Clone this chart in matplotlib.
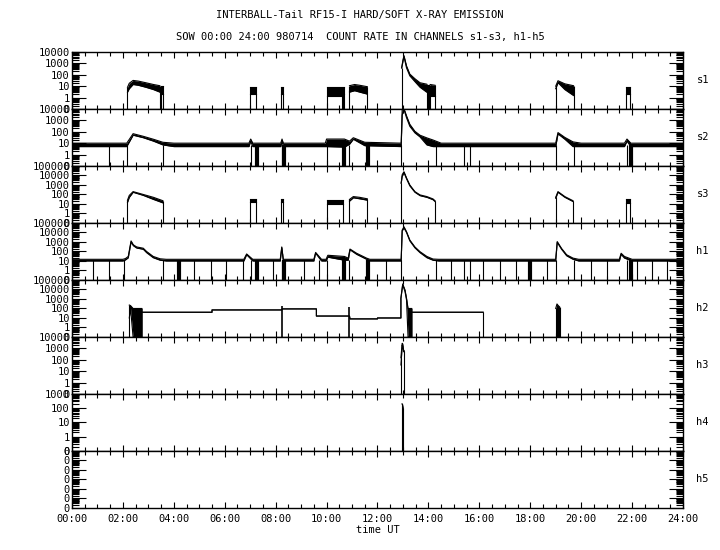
import numpy as np
import matplotlib
matplotlib.use('Agg')
import matplotlib.pyplot as plt
from matplotlib.ticker import FixedLocator, MultipleLocator

plt.rcParams['font.family'] = ['DejaVu Sans Mono']
plt.rcParams['font.size'] = 7.5

# panel names and top decade of each y axis (bottom is always the "0" row)
names = ['s1', 's2', 's3', 'h1', 'h2', 'h3', 'h4', 'h5']
tops = [4, 4, 5, 5, 5, 4, 3, 5]

# ---- s1: isolated bursts (hours, lower / upper edge of the noisy band, counts)
s1_segs = [
    ([2.18, 2.25, 2.4, 2.6, 2.9, 3.2, 3.45], [3, 6, 14, 12, 8, 5, 3], [8, 18, 32, 28, 20, 14, 11]),
    ([3.5, 3.57], [2, 2], [10, 10]),
    ([7.0, 7.23], [2, 2], [9, 9]),
    ([8.2, 8.3], [2, 2], [9, 9]),
    ([10.0, 10.62], [1.5, 1.5], [9, 9]),
    ([10.66, 10.7], [2, 2], [8, 8]),
    ([10.9, 11.1, 11.3, 11.6], [3, 4, 3, 2], [11, 14, 12, 9]),
    ([12.95, 13.0, 13.04, 13.14, 13.27, 13.47, 13.67, 13.93],
     [400, 1500, 4000, 400, 80, 25, 8, 3], [400, 2000, 4800, 600, 115, 45, 20, 15]),
    ([13.97, 14.03], [2, 2], [14, 14]),
    ([14.07, 14.26], [1.5, 1.5], [14, 12]),
    ([19.0, 19.09, 19.36, 19.7], [6, 20, 5, 1.5], [10, 30, 16, 11]),
    ([21.76, 21.9], [2, 2], [9, 9]),
]

# ---- s2: continuous background with humps, and drop-outs to zero
s2_t = [0, 2.15, 2.4, 2.8, 3.2, 3.57, 4.0, 6.95, 7.02, 7.1, 8.2, 8.25, 8.3, 9.95,
        10.0, 10.7, 10.9, 11.05, 11.5, 12.93, 12.97, 13.04, 13.14, 13.27, 13.47,
        13.67, 13.94, 14.18, 14.5, 19.0, 19.09, 19.36, 19.68, 20.0, 21.7, 21.8,
        21.95, 24]
s2_lo = [5, 5, 50, 30, 15, 7, 5, 5, 15, 5, 5, 15, 5, 5,
         5, 4.5, 8, 22, 6, 5, 3000, 9000, 1700, 300, 80,
         35, 7, 5, 5, 5, 65, 22, 5, 5, 5, 15,
         5, 5]
s2_hi = [10, 10, 68, 40, 22, 12, 10, 10, 23, 10, 10, 23, 10, 10,
         23, 23, 15, 30, 12, 10, 9000, 11000, 2500, 450, 110,
         50, 29, 19, 10, 10, 85, 32, 13, 10, 10, 23,
         10, 10]
s2_dips = [1.46, 2.16, 3.58, 7.03, 8.25, 10.0, 10.9, 12.93, 14.3, 15.4, 15.63,
           19.0, 19.72, 21.8]
s2_wide_dips = [7.27, 8.33, 10.7, 11.64, 21.97]

# ---- s3: isolated bursts
s3_segs = [
    ([2.18, 2.25, 2.4, 2.8, 3.2, 3.57], [15, 50, 170, 80, 30, 13], [25, 80, 200, 100, 50, 22]),
    ([7.0, 7.23], [15, 15], [30, 30]),
    ([8.2, 8.3], [15, 15], [30, 30]),
    ([10.0, 10.65], [10, 10], [25, 25]),
    ([10.9, 11.05, 11.3, 11.6], [20, 45, 35, 25], [30, 60, 50, 35]),
    ([12.93, 12.97, 13.04, 13.14, 13.27, 13.47, 13.67, 13.94, 14.18, 14.26],
     [1500, 8000, 20000, 4500, 800, 170, 75, 50, 28, 18],
     [1600, 12000, 25000, 5500, 1000, 200, 90, 60, 34, 22]),
    ([19.0, 19.09, 19.36, 19.68], [40, 170, 50, 18], [50, 200, 60, 22]),
    ([21.76, 21.9], [13, 13], [30, 30]),
]

# ---- h1: continuous background with flares, many drop-outs
h1_t = [0, 2.0, 2.1, 2.21, 2.32, 2.41, 2.54, 2.8, 2.93, 3.19, 3.46, 3.7, 6.75, 6.86,
        7.1, 8.18, 8.24, 8.3, 9.5, 9.57, 9.8, 9.98, 10.05, 10.7, 10.85, 10.92,
        11.18, 11.57, 11.7, 12.93, 12.97, 13.04, 13.14, 13.27, 13.47, 13.67, 13.94,
        14.18, 14.4, 19.0, 19.06, 19.23, 19.43, 19.68, 19.9, 21.5, 21.57, 21.7,
        22.0, 24]
h1_lo = [10, 10, 13, 22, 1000, 400, 230, 170, 75, 22, 12, 10, 10, 45,
         10, 10, 250, 10, 10, 65, 10, 10, 25, 12, 12, 150,
         50, 15, 10, 10, 15000, 30000, 10000, 1300, 240, 75, 22,
         12, 10, 10, 900, 170, 35, 15, 10, 10, 50, 20,
         10, 10]
h1_hi = [15, 15, 18, 30, 1300, 500, 300, 220, 100, 30, 17, 15, 15, 55,
         15, 15, 300, 15, 15, 80, 15, 15, 40, 30, 20, 180,
         65, 20, 15, 15, 18000, 40000, 12000, 1600, 300, 95, 30,
         16, 15, 15, 1100, 210, 45, 20, 15, 15, 65, 30,
         15, 15]
h1_dips = [0.82, 1.45, 2.04, 3.57, 4.8, 5.46, 6.05, 6.7, 7.03, 7.9, 8.25, 9.1,
           9.7, 10.0, 10.9, 12.33, 12.93, 14.3, 14.9, 15.4, 15.63, 16.15, 16.8,
           17.43, 18.65, 19.0, 19.72, 20.4, 21.0, 21.8, 22.2, 22.8, 23.37]
h1_wide_dips = [4.2, 7.25, 8.33, 10.7, 11.63, 18.0, 21.97]

# ---- h2: step-like trace between 02:15 and 16:10, plus a burst at 19:00
h2_t = [2.25, 2.3, 2.4, 2.75, 2.75, 5.5, 5.5, 8.24, 8.26, 9.6, 9.6, 10.9, 10.92,
        12.0, 12.0, 12.92, 12.92, 12.99, 13.08, 13.14, 13.2, 13.35, 13.35, 16.15]
h2_lo = [10, 100, 0, 0, 40, 40, 70, 70, 90, 90, 16, 16, 8,
         8, 10, 10, 1200, 30000, 6000, 800, 0, 0, 40, 40]
h2_hi = [230, 200, 100, 100, 40, 40, 70, 70, 90, 90, 16, 16, 8,
         8, 10, 10, 1200, 38000, 9000, 1200, 100, 100, 40, 40]
h2_spikes = [8.24, 10.9]
h2_spike_top = [180, 150]
h2_burst_t = [19.0, 19.05, 19.1, 19.15]
h2_burst_hi = [100, 300, 200, 150]

# ---- h3 and h4: single spike at the 13:00 flare
h3_t = [12.92, 12.94, 12.97, 12.99, 13.03, 13.05]
h3_lo = [35, 150, 2000, 1500, 500, 500]
h3_hi = [150, 500, 2800, 2500, 600, 600]
h4_t = [12.96, 12.98, 13.01]
h4_hi = [200, 200, 100]

title1 = 'INTERBALL-Tail RF15-I HARD/SOFT X-RAY EMISSION'
title2 = 'SOW 00:00 24:00 980714  COUNT RATE IN CHANNELS s1-s3, h1-h5'
hours = np.arange(0, 25, 2)
hour_labels = ['%02d:00' % h for h in hours]

LW = 0.8


def lg(c):
    # log10 of the count, with 0 counts placed one decade below 1
    c = np.asarray(c, dtype=float)
    return np.where(c > 0, np.log10(np.where(c > 0, c, 1)), -1.0)


def band(ax, t, lo, hi, edges=True):
    t = np.asarray(t, dtype=float)
    l, h = lg(lo), lg(hi)
    ax.fill_between(t, l, h, color='k', lw=0)
    ax.plot(t, l, color='k', lw=LW)
    ax.plot(t, h, color='k', lw=LW)
    if edges:
        ax.vlines([t[0], t[-1]], -1, [h[0], h[-1]], color='k', lw=LW)


fig, axes = plt.subplots(8, 1, figsize=(7.2, 5.5), dpi=100, sharex=True)
fig.subplots_adjust(left=0.1, right=0.9486, top=0.9055, bottom=0.0764, hspace=0)

for seg in s1_segs:
    band(axes[0], *seg)

band(axes[1], s2_t, s2_lo, s2_hi, edges=False)
axes[1].vlines(s2_dips, -1, lg(7), color='k', lw=LW)
axes[1].vlines(s2_wide_dips, -1, lg(7), color='k', lw=3)

for seg in s3_segs:
    band(axes[2], *seg)

band(axes[3], h1_t, h1_lo, h1_hi, edges=False)
axes[3].vlines(h1_dips, -1, lg(12), color='k', lw=LW)
axes[3].vlines(h1_wide_dips, -1, lg(12), color='k', lw=3)

band(axes[4], h2_t, h2_lo, h2_hi)
axes[4].vlines(h2_spikes, -1, lg(h2_spike_top), color='k', lw=1.2)
band(axes[4], h2_burst_t, np.zeros(len(h2_burst_t)), h2_burst_hi)

band(axes[5], h3_t, h3_lo, h3_hi)
band(axes[6], h4_t, np.zeros(len(h4_t)), h4_hi)

for ax, name, top in zip(axes, names, tops):
    ax.set_xlim(0, 24)
    ax.set_ylim(-1, top)
    major = np.arange(-1, top + 1)
    ax.yaxis.set_major_locator(FixedLocator(major))
    if name == 'h5':
        ax.set_yticklabels(['0'] * len(major))
    else:
        ax.set_yticklabels(['0'] + ['%d' % 10 ** k for k in major[1:]])
    minor = [d + np.log10(m) for d in range(-1, top) for m in range(2, 10)]
    ax.yaxis.set_minor_locator(FixedLocator(minor))
    ax.xaxis.set_major_locator(FixedLocator(hours))
    ax.xaxis.set_minor_locator(MultipleLocator(0.5))
    ax.tick_params(which='both', direction='in', left=True, right=True,
                   top=True, bottom=True, width=0.8, pad=1.5)
    ax.tick_params(axis='y', which='major', length=10)
    ax.tick_params(axis='y', which='minor', length=5)
    ax.tick_params(axis='x', which='major', length=4)
    ax.tick_params(axis='x', which='minor', length=3)
    for sp in ax.spines.values():
        sp.set_linewidth(1.0)
    ax.text(1.022, 0.5, name, transform=ax.transAxes, ha='left', va='center')

axes[-1].set_xticklabels(hour_labels)
axes[-1].tick_params(axis='x', pad=4)
axes[-1].set_xlabel('time UT', labelpad=1)

fig.text(0.5, 0.973, title1, ha='center', va='center')
fig.text(0.5, 0.933, title2, ha='center', va='center')

fig.savefig('out.png', dpi=100)
